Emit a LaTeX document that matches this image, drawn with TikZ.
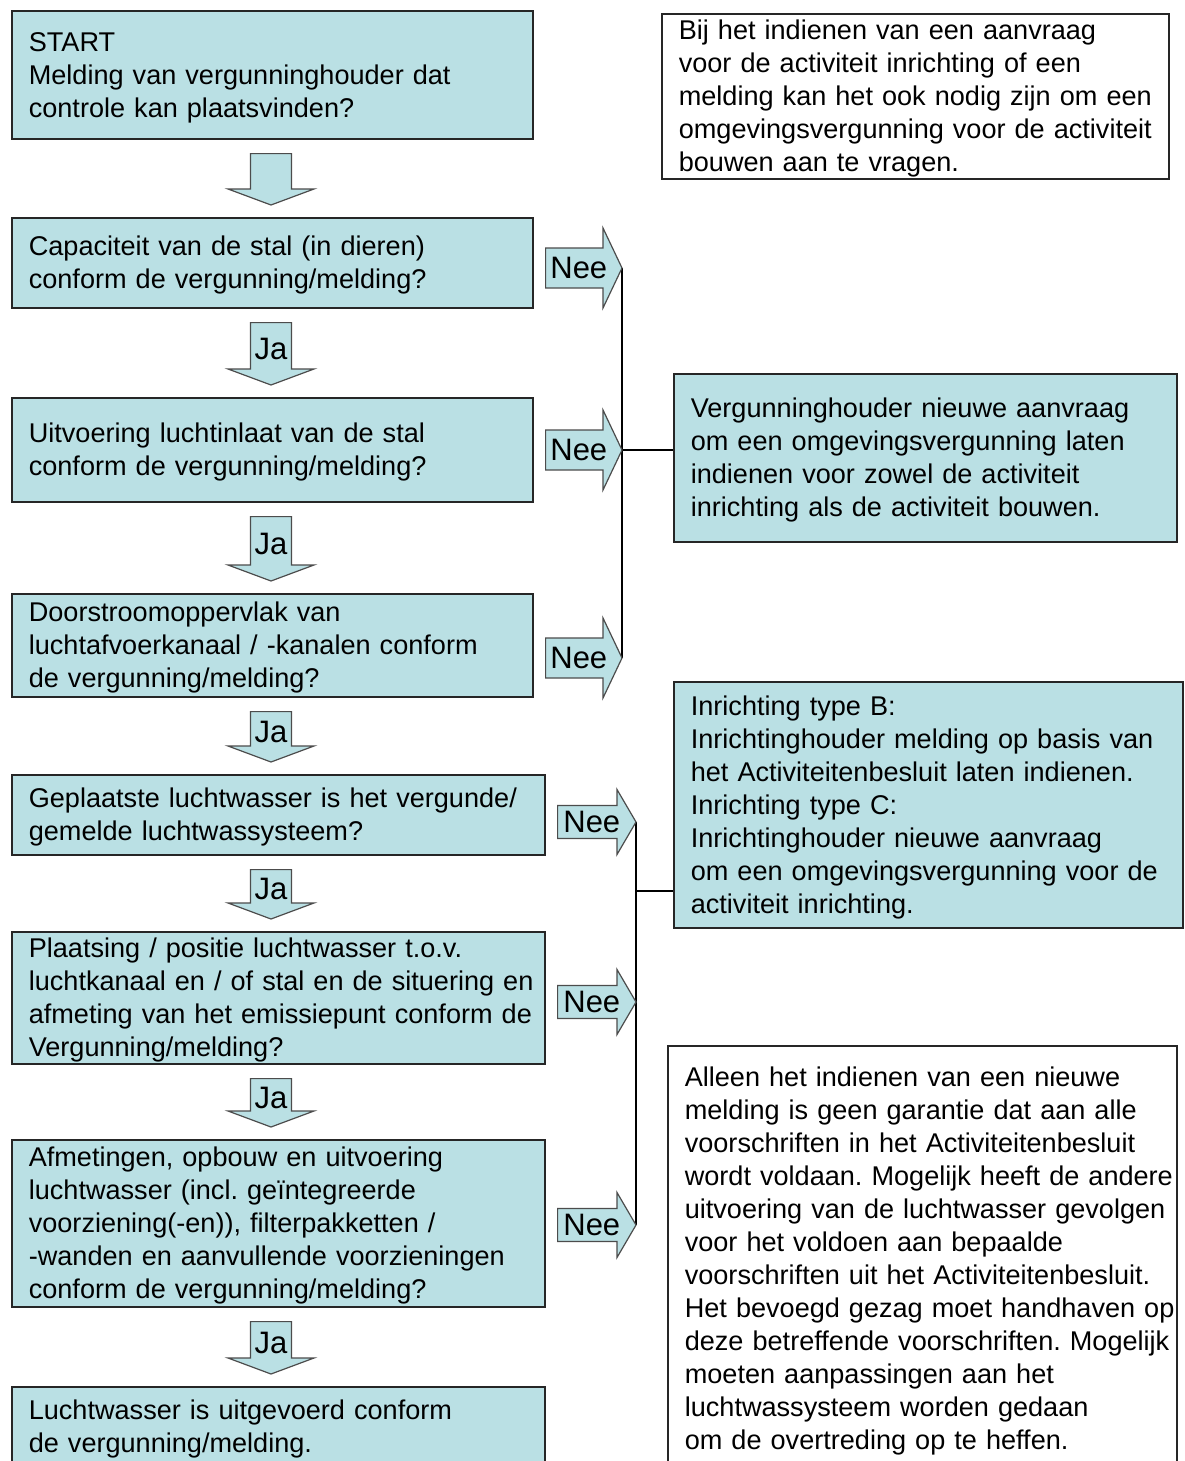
\documentclass[tikz,border=0pt]{standalone}
\usepackage{fontspec}
\setmainfont{Liberation Sans}
\usetikzlibrary{calc}
\definecolor{boxteal}{RGB}{186,224,228}
\frenchspacing
\newcommand{\rows}[1]{\raisebox{-3pt}[\height][\depth]{\begin{tabular}{@{}l@{}}#1\end{tabular}}}
\newcommand{\jadown}[4]{%
  \coordinate (#1top) at ($(#2.south -| axis)+(0,14)$);
  \coordinate (#1tip) at ($(#3.north -| axis)+(0,-12)$);
  \draw[blockarrow] ($(#1top)+(-20.5,0)$) -- ($(#1top)+(20.5,0)$) -- ($(#1tip)+(20.5,-16)$)
    -- ($(#1tip)+(43,-16)$) -- (#1tip) -- ($(#1tip)+(-43,-16)$) -- ($(#1tip)+(-20.5,-16)$) -- cycle;
  \node(#1)[arrowlabel] at ($(#1top)!0.5!(#1tip)+(0,-5)$) {#4};}
\newcommand{\neeright}[5]{%
  \coordinate (#1tail) at ($(#2.east |- #3)+(12,0)$);
  \coordinate (#1base) at ($(#3)+(-19,0)$);
  \draw[blockarrow] ($(#1tail)+(0,-#4)$) -- ($(#1base)+(0,-#4)$) -- ($(#1base)+(0,-#5)$) -- (#3)
    -- ($(#1base)+(0,#5)$) -- ($(#1base)+(0,#4)$) -- ($(#1tail)+(0,#4)$) -- cycle;
  \node(#1)[arrowlabel] at ($(#1tail)!0.5!(#1base)+(4.5,0)$) {Nee};}

\begin{document}
\begin{tikzpicture}[x=1pt, y=-1pt,
  font=\fontsize{27.1}{33}\selectfont,
  stepbox/.style={draw=black!85, line width=1.6pt, fill=boxteal, anchor=north west,
    align=left, inner xsep=17pt, inner ysep=0pt},
  notebox/.style={stepbox, fill=white},
  blockarrow/.style={draw=black!70, line width=1.2pt, fill=boxteal},
  trunk/.style={draw=black, line width=1.6pt},
  arrowlabel/.style={font=\fontsize{31}{31}\selectfont, inner sep=0pt}]
  \clip (0,0) rectangle (1184,1461);
  \coordinate (axis) at (271,0);

  \node(start)[stepbox, text width=487pt, minimum height=128pt] at (11,10)
    {\rows{START\\Melding van vergunninghouder dat\\controle kan plaatsvinden?}};
  \node(cap)[stepbox, text width=487pt, minimum height=90pt] at (11,217)
    {\rows{Capaciteit van de stal (in dieren)\\conform de vergunning/melding?}};
  \node(inlaat)[stepbox, text width=487pt, minimum height=104pt] at (11,397)
    {\rows{Uitvoering luchtinlaat van de stal\\conform de vergunning/melding?}};
  \node(doorstroom)[stepbox, text width=487pt, minimum height=103pt] at (11,593)
    {\rows{Doorstroomoppervlak van\\luchtafvoerkanaal / -kanalen conform\\de vergunning/melding?}};
  \node(geplaatst)[stepbox, text width=499pt, minimum height=80pt] at (11,774)
    {\rows{Geplaatste luchtwasser is het vergunde/\\gemelde luchtwassysteem?}};
  \node(plaatsing)[stepbox, text width=499pt, minimum height=129pt] at (11,931)
    {\rows{Plaatsing / positie luchtwasser t.o.v.\\luchtkanaal en / of stal en de situering en\\afmeting van het emissiepunt conform de\\Vergunning/melding?}};
  \node(afmeting)[stepbox, text width=499pt, minimum height=167pt] at (11,1139)
    {\rows{Afmetingen, opbouw en uitvoering\\luchtwasser (incl. geïntegreerde\\voorziening(-en)), filterpakketten /\\-wanden en aanvullende voorzieningen\\conform de vergunning/melding?}};
  \node(conform)[stepbox, text width=499pt, minimum height=80pt] at (11,1386)
    {\rows{Luchtwasser is uitgevoerd conform\\de vergunning/melding.}};

  \node(bouwen)[notebox, text width=473pt, minimum height=164pt] at (661,13)
    {\rows{Bij het indienen van een aanvraag\\voor de activiteit inrichting of een\\melding kan het ook nodig zijn om een\\omgevingsvergunning voor de activiteit\\bouwen aan te vragen.}};
  \node(nieuw)[stepbox, text width=469pt, minimum height=168pt] at (673,373)
    {\rows{Vergunninghouder nieuwe aanvraag\\om een omgevingsvergunning laten\\indienen voor zowel de activiteit\\inrichting als de activiteit bouwen.}};
  \node(typebc)[stepbox, text width=475pt, minimum height=246pt] at (673,681)
    {\rows{Inrichting type B:\\Inrichtinghouder melding op basis van\\het Activiteitenbesluit laten indienen.\\Inrichting type C:\\Inrichtinghouder nieuwe aanvraag\\om een omgevingsvergunning voor de\\activiteit inrichting.}};
  \node(handhaven)[notebox, text width=475pt, minimum height=425pt] at (667,1045)
    {\rows{Alleen het indienen van een nieuwe\\melding is geen garantie dat aan alle\\voorschriften in het Activiteitenbesluit\\wordt voldaan. Mogelijk heeft de andere\\uitvoering van de luchtwasser gevolgen\\voor het voldoen aan bepaalde\\voorschriften uit het Activiteitenbesluit.\\Het bevoegd gezag moet handhaven op\\deze betreffende voorschriften. Mogelijk\\moeten aanpassingen aan het\\luchtwassysteem worden gedaan\\om de overtreding op te heffen.}};

  \coordinate (n1) at (622,268);
  \coordinate (n2) at (622,450);
  \coordinate (n3) at (622,658);
  \coordinate (n4) at (636,822);
  \coordinate (n5) at (636,1002);
  \coordinate (n6) at (636,1225);
  \coordinate (j2) at (636,891);
  \draw[trunk] (n1) -- (n3);
  \draw[trunk] (n2) -- (n2 -| nieuw.west);
  \draw[trunk] (n4) -- (n6);
  \draw[trunk] (j2) -- (j2 -| typebc.west);

  \jadown{ja0}{start}{cap}{}
  \jadown{ja1}{cap}{inlaat}{Ja}
  \jadown{ja2}{inlaat}{doorstroom}{Ja}
  \jadown{ja3}{doorstroom}{geplaatst}{Ja}
  \jadown{ja4}{geplaatst}{plaatsing}{Ja}
  \jadown{ja5}{plaatsing}{afmeting}{Ja}
  \jadown{ja6}{afmeting}{conform}{Ja}

  \neeright{nee1}{cap}{n1}{20}{40}
  \neeright{nee2}{inlaat}{n2}{20}{40}
  \neeright{nee3}{doorstroom}{n3}{20}{40}
  \neeright{nee4}{geplaatst}{n4}{16.5}{32.5}
  \neeright{nee5}{plaatsing}{n5}{16.5}{32.5}
  \neeright{nee6}{afmeting}{n6}{16.5}{32.5}
\end{tikzpicture}
\end{document}
